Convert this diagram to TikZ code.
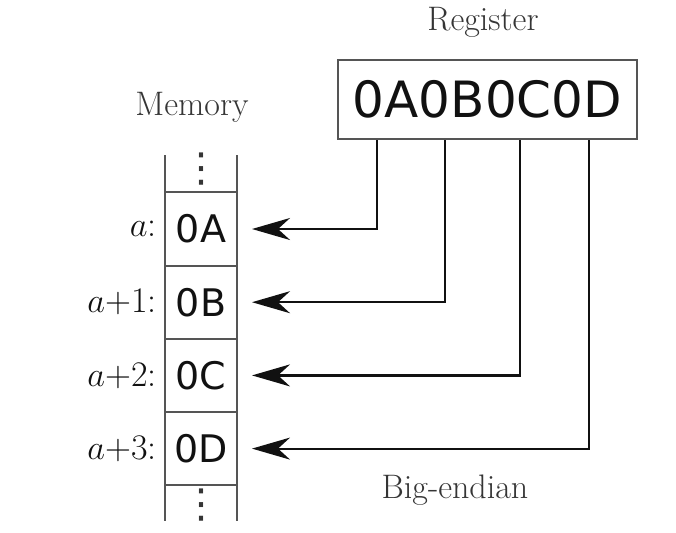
\documentclass[tikz,border=0pt]{standalone}
\usepackage{fontspec}
\newfontfamily\hexfont{DejaVu Sans}
\usetikzlibrary{arrows.meta,positioning,calc}
\definecolor{ink}{HTML}{111111}
\definecolor{rule}{HTML}{555555}
\tikzset{
  cell/.style={
    draw=rule, line width=1pt, outer sep=0pt, inner sep=0pt,
    minimum width=36pt, minimum height=36.6pt,
    font=\hexfont\fontsize{19}{21}\selectfont, text=ink
  },
  regbox/.style={
    draw=rule, line width=1pt, inner sep=0pt,
    minimum width=149.5pt, minimum height=39.5pt,
    font=\hexfont\fontsize{25}{28}\selectfont, text=ink
  },
  caption/.style={font=\fontsize{17}{20}\selectfont, text=ink!85, inner sep=0pt},
  addr/.style={caption, font=\fontsize{18}{20}\selectfont, text=ink},
  dots/.style={font=\hexfont\fontsize{20}{20}\selectfont, text=ink!85, inner sep=0pt},
  side/.style={draw=rule, line width=1pt},
  arrow/.style={-{Stealth[length=19pt,width=11pt,inset=6pt]}, line width=1.1pt, draw=ink, shorten >=7.5pt}
}

\begin{document}
\begin{tikzpicture}[x=0.5pt,y=-0.5pt]
  \useasboundingbox (0,0) rectangle (676,532);

  % memory column
  \node[cell] (memA) at (201,229) {0A};
  \node[cell, below=0pt of memA] (memB) {0B};
  \node[cell, below=0pt of memB] (memC) {0C};
  \node[cell, below=0pt of memC] (memD) {0D};
  \draw[side] (memA.north west) -- ++(0,-37) (memA.north east) -- ++(0,-37);
  \draw[side] (memD.south west) -- ++(0,36) (memD.south east) -- ++(0,36);
  \node[dots] (dotsTop) at (201,169) {⋮};
  \node[dots] (dotsBot) at (201,505) {⋮};
  \node[caption] (memLabel) at (192,107) {Memory};

  \node[addr, left=4pt of memA] (addrA) {$a$:};
  \node[addr, left=4pt of memB] (addrB) {$a$+1:};
  \node[addr, left=4pt of memC] (addrC) {$a$+2:};
  \node[addr, left=4pt of memD] (addrD) {$a$+3:};

  % register
  \node[regbox] (reg) at (487.5,99.5) {0A0B0C0D};
  \node[caption] (regLabel) at (483,22) {Register};
  \node[caption] (order) at (455,490) {Big-endian};

  \draw[arrow] ([xshift=20pt]reg.south west) |- (memA.east);
  \draw[arrow] ([xshift=54pt]reg.south west) |- (memB.east);
  \draw[arrow] ([xshift=91.5pt]reg.south west) |- (memC.east);
  \draw[arrow] ([xshift=126pt]reg.south west) |- (memD.east);
\end{tikzpicture}
\end{document}
